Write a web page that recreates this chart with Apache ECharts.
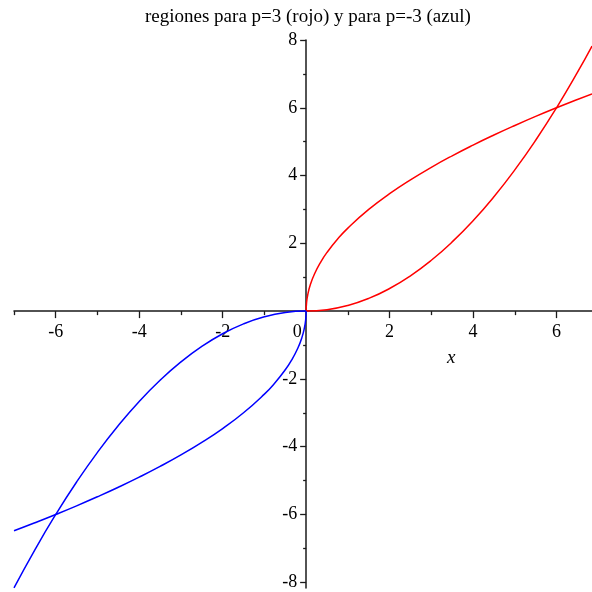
<!DOCTYPE html>
<html>
<head>
<meta charset="utf-8">
<script src="https://cdn.jsdelivr.net/npm/echarts@6/dist/echarts.min.js"></script>
<style>
  html, body { margin: 0; padding: 0; background: #fff; }
  #chart { width: 592px; height: 592px; }
</style>
</head>
<body>
<div id="chart"></div>
<script>
// Curve samples as [x, y] pairs
const redParabola = [
  [0, 0], [0.5, 0.042], [1, 0.167], [1.5, 0.375], [2, 0.667], [2.5, 1.042],
  [3, 1.5], [3.5, 2.042], [4, 2.667], [4.5, 3.375], [5, 4.167], [5.5, 5.042],
  [6, 6], [6.5, 7.042], [6.85, 7.82]
];
const redRoot = [
  [0, 0], [0.01, 0.245], [0.04, 0.49], [0.1, 0.775], [0.2, 1.095], [0.35, 1.449],
  [0.5, 1.732], [0.75, 2.121], [1, 2.449], [1.5, 3.0], [2, 3.464], [2.5, 3.873],
  [3, 4.243], [3.5, 4.583], [4, 4.899], [4.5, 5.196], [5, 5.477], [5.5, 5.745],
  [6, 6.0], [6.5, 6.245], [6.85, 6.411]
];
const blueParabola = [
  [0, 0], [-0.5, -0.042], [-1, -0.167], [-1.5, -0.375], [-2, -0.667], [-2.5, -1.042],
  [-3, -1.5], [-3.5, -2.042], [-4, -2.667], [-4.5, -3.375], [-5, -4.167], [-5.5, -5.042],
  [-6, -6], [-6.5, -7.042], [-7, -8.167]
];
const blueRoot = [
  [0, 0], [-0.01, -0.245], [-0.04, -0.49], [-0.1, -0.775], [-0.2, -1.095], [-0.35, -1.449],
  [-0.5, -1.732], [-0.75, -2.121], [-1, -2.449], [-1.5, -3.0], [-2, -3.464], [-2.5, -3.873],
  [-3, -4.243], [-3.5, -4.583], [-4, -4.899], [-4.5, -5.196], [-5, -5.477], [-5.5, -5.745],
  [-6, -6.0], [-6.5, -6.245], [-7, -6.481]
];

// Tick positions and labels
const xMajorTicks = [-6, -4, -2, 2, 4, 6];
const xMinorTicks = [-7, -5, -3, -1, 1, 3, 5];
const xLabels = [-6, -4, -2, 0, 2, 4, 6];
const yMajorTicks = [-8, -6, -4, -2, 2, 4, 6, 8];
const yMinorTicks = [-7, -5, -3, -1, 1, 3, 5, 7];
const yLabels = [-8, -6, -4, -2, 2, 4, 6, 8];

const titleText = 'regiones para p=3 (rojo) y para p=-3 (azul)';
const xName = 'x';

const FONT = '"Liberation Serif", "Times New Roman", serif';
const AXIS_COLOR = '#1a1a1a';
const LABEL_SIZE = 18;
const X_MIN = -7, X_MAX = 6.85, Y_MIN = -8.17, Y_MAX = 8;

// Plot area
const W = 592, H = 592;
const GRID = { left: 14, right: 0, top: 40, bottom: 4 };
const gridW = W - GRID.left - GRID.right;
const gridH = H - GRID.top - GRID.bottom;
// Shift the axes from the grid edges onto the origin lines
const xAxisShift = -((0 - Y_MIN) / (Y_MAX - Y_MIN)) * gridH;
const yAxisShift = -((0 - X_MIN) / (X_MAX - X_MIN)) * gridW;

const chart = echarts.init(document.getElementById('chart'), null, { renderer: 'canvas' });

function lineSeries(data, color) {
  return {
    type: 'line',
    data: data,
    xAxisIndex: 0,
    yAxisIndex: 0,
    showSymbol: false,
    smooth: 0.5,
    lineStyle: { color: color, width: 1.5 },
    silent: true,
    animation: false,
    z: 3
  };
}

chart.setOption({
  animation: false,
  backgroundColor: '#fff',
  title: {
    text: titleText,
    left: 140,
    top: 3,
    textStyle: { fontFamily: FONT, fontSize: 19, fontWeight: 'normal', color: '#000' }
  },
  grid: Object.assign({ containLabel: false, outerBoundsMode: 'none' }, GRID),
  xAxis: [
    {
      type: 'value', min: X_MIN, max: X_MAX, position: 'bottom', offset: xAxisShift,
      axisLine: { onZero: false, lineStyle: { color: AXIS_COLOR, width: 1.5 } },
      axisTick: { show: true, length: 7, customValues: xMajorTicks, lineStyle: { color: AXIS_COLOR, width: 1.3 } },
      axisLabel: {
        customValues: xLabels, margin: 12, hideOverlap: false,
        fontFamily: FONT, fontSize: LABEL_SIZE, color: '#000',
        formatter: v => v === 0 ? '{z|0}' : String(v),
        rich: { z: { fontFamily: FONT, fontSize: LABEL_SIZE, color: '#000', padding: [0, 18, 0, 0] } }
      },
      splitLine: { show: false }
    },
    {
      type: 'value', min: X_MIN, max: X_MAX, position: 'bottom', offset: xAxisShift,
      axisLine: { show: false, onZero: false },
      axisTick: { show: true, length: 4, customValues: xMinorTicks, lineStyle: { color: AXIS_COLOR, width: 1.3 } },
      axisLabel: { show: false },
      splitLine: { show: false }
    }
  ],
  yAxis: [
    {
      type: 'value', min: Y_MIN, max: Y_MAX, position: 'left', offset: yAxisShift,
      axisLine: { onZero: false, lineStyle: { color: AXIS_COLOR, width: 1.5 } },
      axisTick: { show: true, length: 6, customValues: yMajorTicks, lineStyle: { color: AXIS_COLOR, width: 1.3 } },
      axisLabel: { customValues: yLabels, margin: 9, hideOverlap: false, fontFamily: FONT, fontSize: LABEL_SIZE, color: '#000' },
      splitLine: { show: false }
    },
    {
      type: 'value', min: Y_MIN, max: Y_MAX, position: 'left', offset: yAxisShift,
      axisLine: { show: false, onZero: false },
      axisTick: { show: true, length: 3, customValues: yMinorTicks, lineStyle: { color: AXIS_COLOR, width: 1.3 } },
      axisLabel: { show: false },
      splitLine: { show: false }
    }
  ],
  graphic: [
    {
      type: 'text', left: 447, top: 348,
      style: { text: xName, font: 'italic 19px ' + FONT, fill: '#000' }
    }
  ],
  series: [
    lineSeries(redParabola, '#ff0000'),
    lineSeries(redRoot, '#ff0000'),
    lineSeries(blueParabola, '#0000ff'),
    lineSeries(blueRoot, '#0000ff')
  ]
});
</script>
</body>
</html>
